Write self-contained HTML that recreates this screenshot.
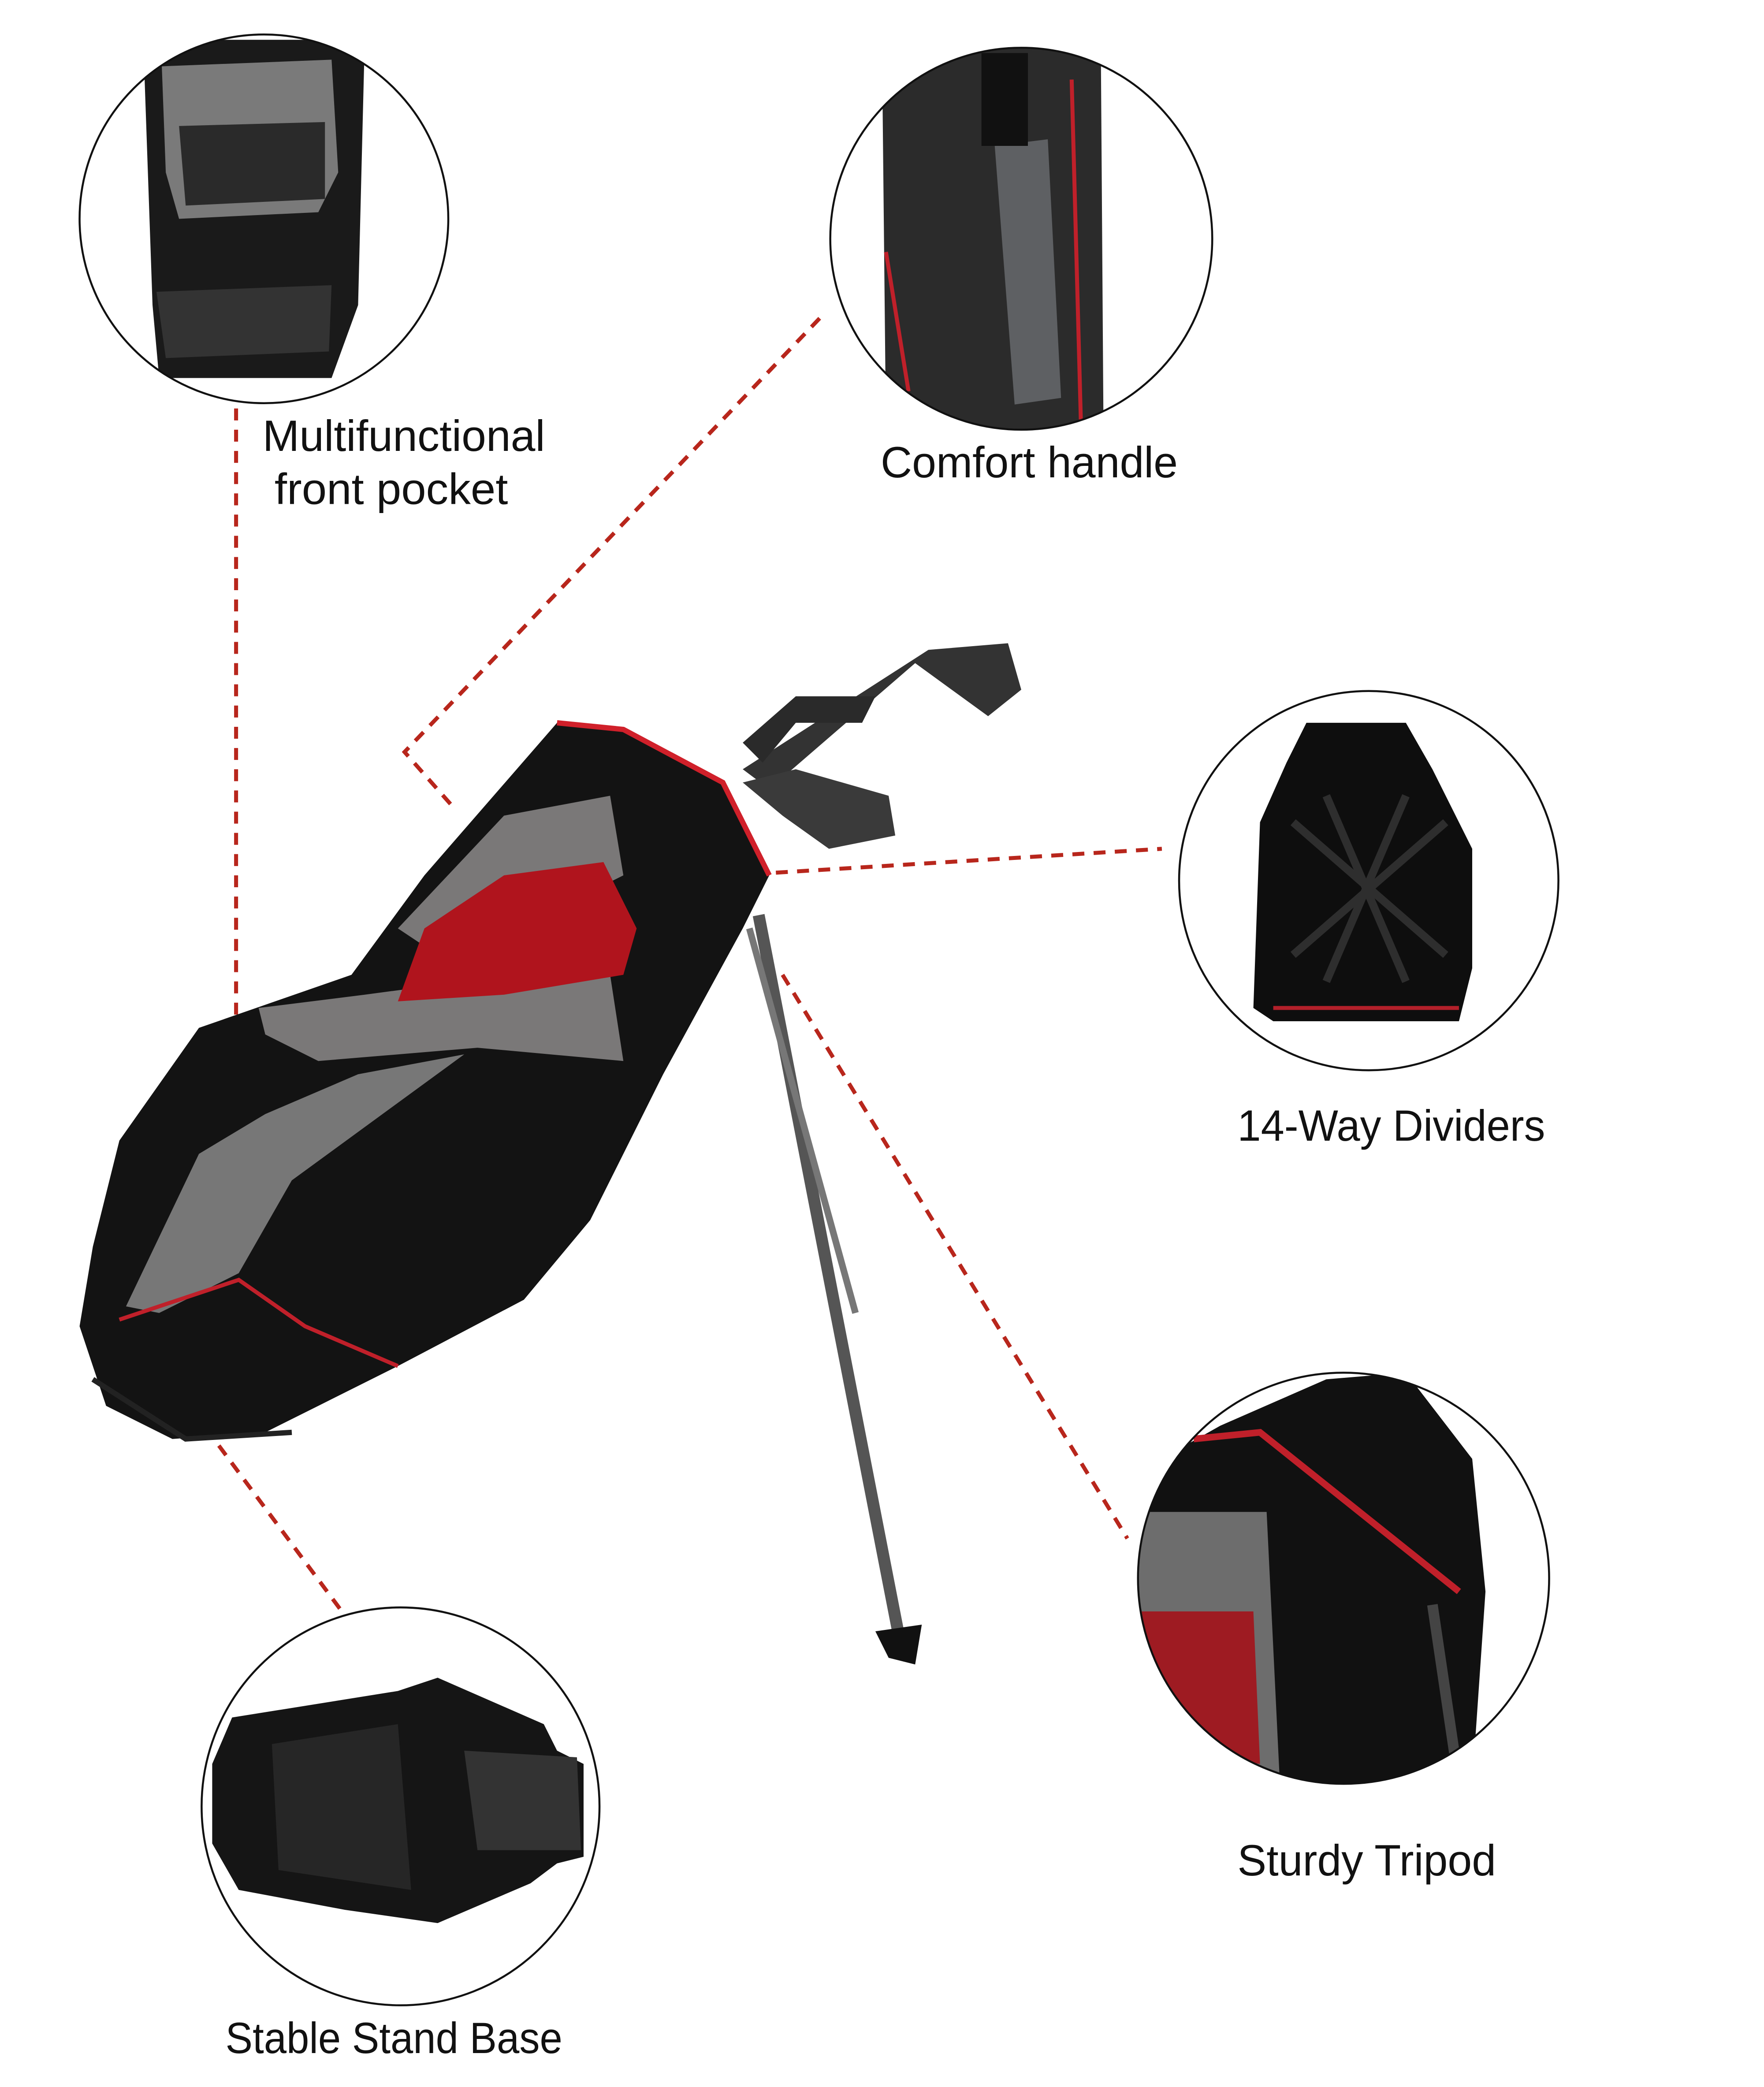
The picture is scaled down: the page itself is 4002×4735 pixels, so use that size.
<!DOCTYPE html>
<html><head><meta charset="utf-8"><style>
html,body{margin:0;padding:0;background:#fff}
svg{display:block}
text{font-family:"Liberation Sans","DejaVu Sans",sans-serif;fill:#111}
</style></head><body>
<svg width="4002" height="4735" viewBox="0 0 1330 1573.6" xmlns="http://www.w3.org/2000/svg">
<defs>
<clipPath id="c1"><circle cx="199" cy="165" r="139"/></clipPath>
<clipPath id="c2"><circle cx="770" cy="180" r="144"/></clipPath>
<clipPath id="c3"><circle cx="1032" cy="664" r="143"/></clipPath>
<clipPath id="c4"><circle cx="1013" cy="1190" r="155"/></clipPath>
<clipPath id="c5"><circle cx="302" cy="1362" r="150"/></clipPath>
</defs>
<rect width="1330" height="1573.6" fill="#fff"/>

<g stroke="#b8261c" stroke-width="3" stroke-dasharray="9,7" fill="none">
<line x1="178" y1="308" x2="178" y2="765"/>
<polyline points="618,240 305,567 343,610"/>
<line x1="585" y1="658" x2="876" y2="640"/>
<line x1="590" y1="735" x2="850" y2="1160"/>
<line x1="165" y1="1090" x2="260" y2="1218"/>
</g>

<g clip-path="url(#c1)">
<path d="M108,30 L275,30 L270,230 L250,285 L120,285 L115,230 Z" fill="#1a1a1a"/>
<path d="M122,50 L250,45 L255,130 L240,160 L135,165 L125,130 Z" fill="#7a7a7a"/>
<path d="M135,95 L245,92 L245,150 L140,155 Z" fill="#2a2a2a"/>
<path d="M118,220 L250,215 L248,265 L125,270 Z" fill="#333"/>
</g>
<circle cx="199" cy="165" r="139" fill="none" stroke="#111" stroke-width="1.5"/>

<g clip-path="url(#c2)">
<path d="M665,36 L830,36 L832,324 L668,324 Z" fill="#2b2b2b"/>
<path d="M808,60 L815,320" stroke="#c0202a" stroke-width="3"/>
<path d="M668,190 L685,295" stroke="#c0202a" stroke-width="3"/>
<path d="M750,110 L790,105 L800,300 L765,305 Z" fill="#5e6063"/>
<rect x="740" y="40" width="35" height="70" fill="#111"/>
</g>
<circle cx="770" cy="180" r="144" fill="none" stroke="#111" stroke-width="1.5"/>

<g clip-path="url(#c3)">
<path d="M985,545 L1060,545 L1080,580 L1110,640 L1110,730 L1100,770 L960,770 L945,760 L950,620 L970,575 Z" fill="#0e0e0e"/>
<path d="M960,760 L1100,760" stroke="#b3202a" stroke-width="3"/>
<g stroke="#2e2e2e" stroke-width="6" fill="none">
<path d="M975,620 L1090,720 M1090,620 L975,720 M1000,600 L1060,740 M1060,600 L1000,740"/>
</g>
</g>
<circle cx="1032" cy="664" r="143" fill="none" stroke="#111" stroke-width="1.5"/>

<g clip-path="url(#c4)">
<path d="M858,1110 L920,1075 L1000,1040 L1060,1035 L1110,1100 L1120,1200 L1110,1345 L858,1345 Z" fill="#111"/>
<path d="M900,1085 L950,1080 L1000,1120 L1100,1200" stroke="#c0202a" stroke-width="5" fill="none"/>
<path d="M858,1140 L955,1140 L965,1345 L858,1345 Z" fill="#6d6d6d"/>
<path d="M858,1215 L945,1215 L950,1330 L880,1320 L858,1280 Z" fill="#9e1b22"/>
<path d="M1080,1210 L1100,1345" stroke="#444" stroke-width="8"/>
</g>
<circle cx="1013" cy="1190" r="155" fill="none" stroke="#111" stroke-width="1.5"/>

<g clip-path="url(#c5)">
<path d="M175,1295 L300,1275 L330,1265 L410,1300 L420,1320 L440,1330 L440,1400 L420,1405 L400,1420 L330,1450 L260,1440 L180,1425 L160,1390 L160,1330 Z" fill="#151515"/>
<path d="M205,1315 L300,1300 L310,1425 L210,1410 Z" fill="#262626"/>
<path d="M350,1320 L435,1325 L438,1395 L360,1395 Z" fill="#333"/>
</g>
<circle cx="302" cy="1362" r="150" fill="none" stroke="#111" stroke-width="1.5"/>

<g>
<path d="M560,580 L700,490 L760,485 L770,520 L745,540 L690,500 L580,595 Z" fill="#333"/>
<path d="M560,560 L600,525 L660,525 L650,545 L600,545 L575,575 Z" fill="#2a2a2a"/>
<path d="M560,590 L600,580 L670,600 L675,630 L625,640 L590,615 Z" fill="#3a3a3a"/>
<line x1="572" y1="690" x2="680" y2="1245" stroke="#555" stroke-width="9"/>
<line x1="565" y1="700" x2="645" y2="990" stroke="#777" stroke-width="5"/>
<path d="M660,1230 L695,1225 L690,1255 L670,1250 Z" fill="#111"/>
<path d="M60,1000 L70,940 L90,860 L150,775 L265,735 L320,660 L420,545 L470,550 L545,590 L580,660 L560,700 L500,810 L445,920 L395,980 L300,1030 L240,1060 L200,1080 L130,1085 L80,1060 Z" fill="#131313"/>
<path d="M420,545 L470,550 L545,590 L580,660" stroke="#d0202a" stroke-width="4" fill="none"/>
<path d="M195,760 L275,750 L350,740 L460,735 L470,800 L360,790 L240,800 L200,780 Z" fill="#7a7878"/>
<path d="M300,700 L380,615 L460,600 L470,660 L410,690 L330,720 Z" fill="#7a7878"/>
<path d="M95,985 L150,870 L200,840 L270,810 L350,795 L220,890 L180,960 L120,990 Z" fill="#777"/>
<path d="M300,755 L320,700 L380,660 L455,650 L480,700 L470,735 L380,750 Z" fill="#b0141d"/>
<path d="M90,995 L180,965 L230,1000 L300,1030" stroke="#c0202a" stroke-width="3" fill="none"/>
<path d="M70,1040 L140,1085 L220,1080" stroke="#222" stroke-width="4" fill="none"/>
</g>

<g font-size="33">
<text x="198" y="340" textLength="213" lengthAdjust="spacingAndGlyphs">Multifunctional</text>
<text x="207" y="380" textLength="176" lengthAdjust="spacingAndGlyphs">front pocket</text>
<text x="664" y="360" textLength="224" lengthAdjust="spacingAndGlyphs">Comfort handle</text>
<text x="933" y="860" textLength="232" lengthAdjust="spacingAndGlyphs">14-Way Dividers</text>
<text x="933" y="1414" textLength="195" lengthAdjust="spacingAndGlyphs">Sturdy Tripod</text>
<text x="170" y="1548" textLength="254" lengthAdjust="spacingAndGlyphs">Stable Stand Base</text>
</g>
</svg>
</body></html>
